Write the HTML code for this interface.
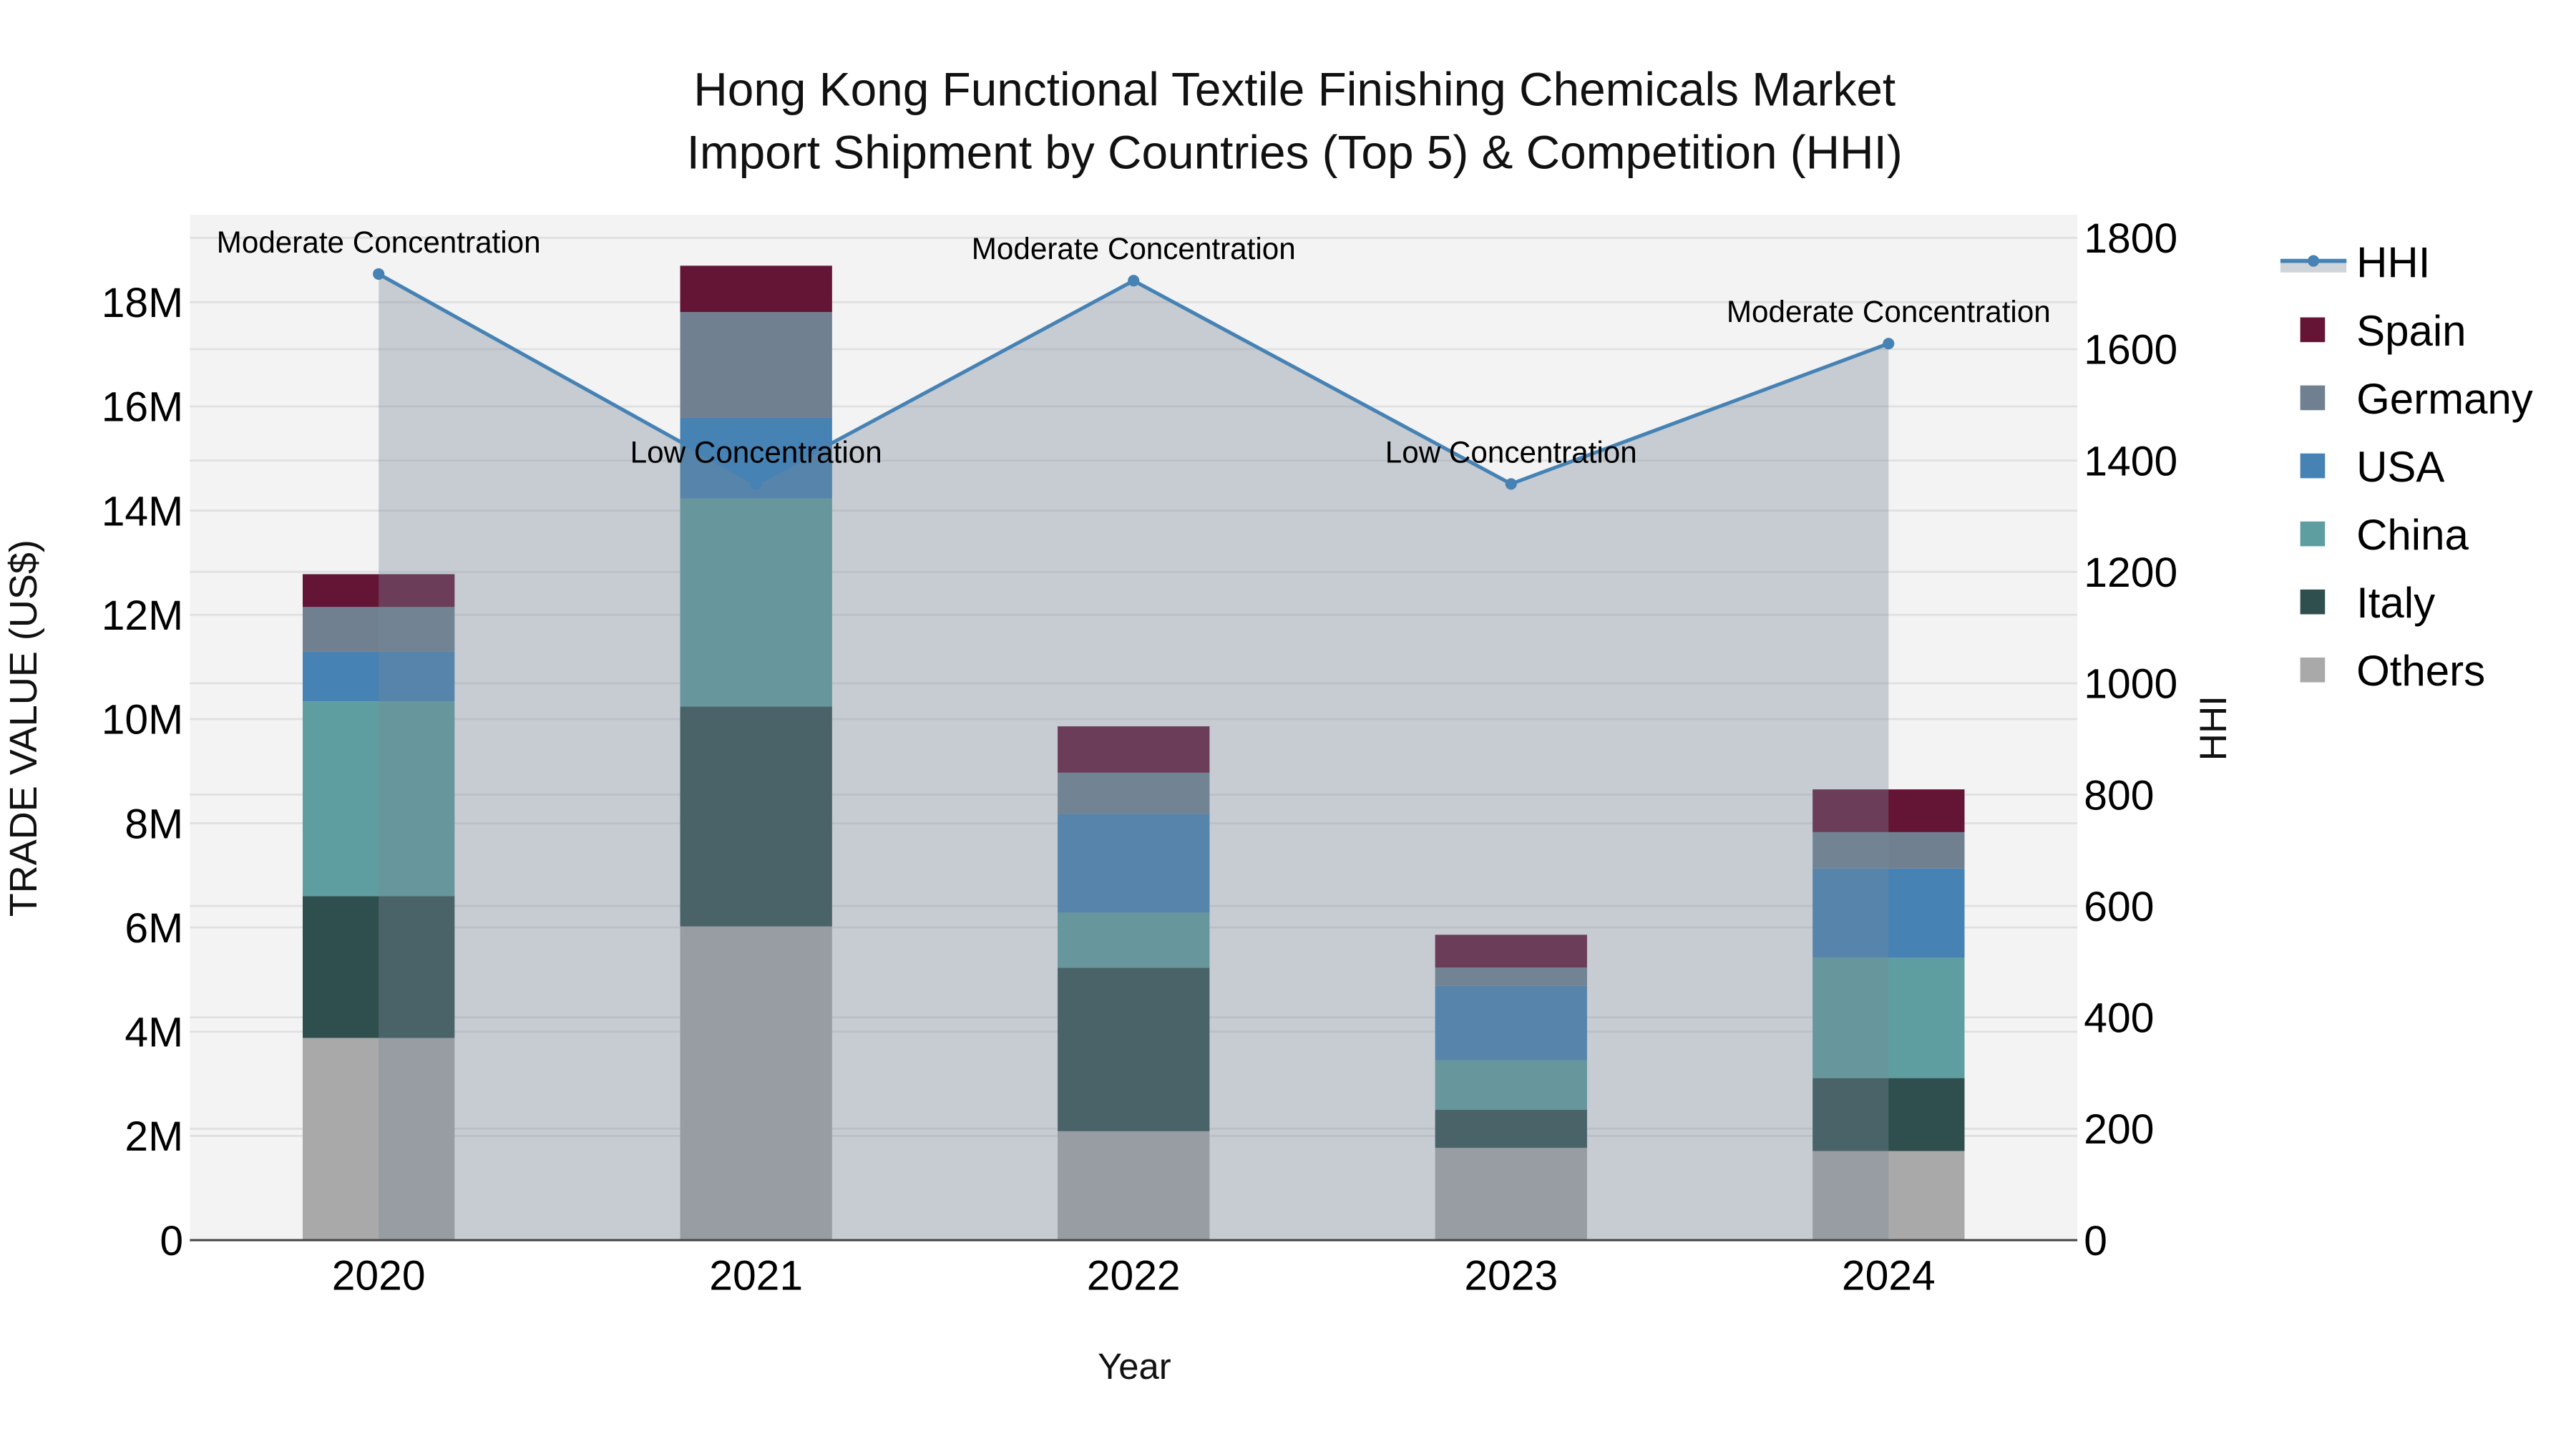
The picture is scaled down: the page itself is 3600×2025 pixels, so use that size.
<!DOCTYPE html>
<html><head><meta charset="utf-8"><style>
html,body{margin:0;padding:0;background:#fff}
svg{display:block}
text{font-family:"Liberation Sans",sans-serif}
</style></head><body>
<svg id="c" width="3600" height="2025" viewBox="0 0 1560 877.5" xmlns="http://www.w3.org/2000/svg"></svg>
<script>
const years=["2020","2021","2022","2023","2024"];
const others=[3.88,6.02,2.09,1.77,1.71];
const italy=[2.72,4.22,3.14,0.73,1.40];
const china=[3.74,3.99,1.05,0.95,2.31];
const usa=[0.95,1.55,1.90,1.43,1.71];
const germany=[0.86,2.03,0.79,0.35,0.70];
const spain=[0.63,0.89,0.89,0.63,0.82];
const hhi=[1735,1358,1723,1358,1610];
const hhiLabels=["Moderate Concentration","Low Concentration","Moderate Concentration","Low Concentration","Moderate Concentration"];
const yTicks=[0,2,4,6,8,10,12,14,16,18];
const y2Ticks=[0,200,400,600,800,1000,1200,1400,1600,1800];

const NS="http://www.w3.org/2000/svg";
const svg=document.getElementById('c');
const L=115,R=1258,T=130,B=751;
const xc=i=>L+(i+0.5)*(R-L)/years.length;
const y1=v=>B-v*(B-183)/18;
const y2=v=>B-v*(B-144)/1800;
function el(tag,attrs,parent){const e=document.createElementNS(NS,tag);for(const k in attrs)e.setAttribute(k,attrs[k]);(parent||svg).appendChild(e);return e;}
function txt(s,attrs){const e=el('text',attrs);e.textContent=s;return e;}

const bg=el('rect',{x:L,y:T,width:R-L,height:B-T,fill:'#f3f3f3'});


yTicks.forEach(v=>{const g=el('line',{x1:L,x2:R,y1:y1(v),y2:y1(v),stroke:'#e0e0e0','stroke-width':1.2});

});
y2Ticks.forEach(v=>{const g=el('line',{x1:L,x2:R,y1:y2(v),y2:y2(v),stroke:'#e0e0e0','stroke-width':1.2});

});

const series=[["Others",others,"#a9a9a9"],["Italy",italy,"#2f4f4f"],["China",china,"#5f9ea0"],["USA",usa,"#4682b4"],["Germany",germany,"#708090"],["Spain",spain,"#641434"]];
const bw=92;
years.forEach((yr,i)=>{let base=0;series.forEach(s=>{const v=s[1][i];const r=el('rect',{x:xc(i)-bw/2,y:y1(base+v),width:bw,height:y1(base)-y1(base+v),fill:s[2]});


base+=v;});});

let d='M'+xc(0)+','+B;hhi.forEach((v,i)=>{d+=' L'+xc(i)+','+y2(v);});d+=' L'+xc(hhi.length-1)+','+B+' Z';
const area=el('path',{d:d,fill:'rgba(119,136,153,0.36)'});


let ld='';hhi.forEach((v,i)=>{ld+=(i?' L':'M')+xc(i)+','+y2(v);});
const line=el('path',{d:ld,fill:'none',stroke:'#4682b4','stroke-width':2.2});


hhi.forEach((v,i)=>{const p=el('circle',{cx:xc(i),cy:y2(v),r:3.5,fill:'#4682b4'});


const a=txt(hhiLabels[i],{x:xc(i),y:y2(v)-13,'text-anchor':'middle','font-size':18.3,fill:'#000'});

});

const ax=el('line',{x1:L,x2:R,y1:B,y2:B,stroke:'#444','stroke-width':1.3});


yTicks.forEach(v=>{const t=txt(v===0?'0':v+'M',{x:L-4,y:y1(v)+9,'text-anchor':'end','font-size':25.5,fill:'#000'});

});
y2Ticks.forEach(v=>{const t=txt(String(v),{x:R+4,y:y2(v)+9,'text-anchor':'start','font-size':25.5,fill:'#000'});

});
years.forEach((yr,i)=>{const t=txt(yr,{x:xc(i),y:781,'text-anchor':'middle','font-size':25.5,fill:'#000'});

});

const titles=[["Hong Kong Functional Textile Finishing Chemicals Market",64],["Import Shipment by Countries (Top 5) & Competition (HHI)",102]];
titles.forEach(t=>{const e=txt(t[0],{x:784,y:t[1],'text-anchor':'middle','font-size':28.5,fill:'#111'});

});
const xt=txt('Year',{x:687,y:835,'text-anchor':'middle','font-size':22,fill:'#111'});


const yt=txt('TRADE VALUE (US$)',{x:0,y:0,'text-anchor':'middle','font-size':23.4,fill:'#111',transform:'translate(22,441) rotate(-90)'});


const y2t=txt('HHI',{x:0,y:0,'text-anchor':'middle','font-size':23,fill:'#111',transform:'translate(1348,441) rotate(-90)'});



const lg=[["HHI",null],["Spain","#641434"],["Germany","#708090"],["USA","#4682b4"],["China","#5f9ea0"],["Italy","#2f4f4f"],["Others","#a9a9a9"]];
lg.forEach((e,i)=>{const y=159+i*41.2;
if(e[1]){const r=el('rect',{x:1393,y:y-8,width:15,height:15,fill:e[1]});

}
else{el('rect',{x:1381,y:y-2,width:40,height:8,fill:'rgba(119,136,153,0.36)'});
el('line',{x1:1381,x2:1421,y1:y-1,y2:y-1,stroke:'#4682b4','stroke-width':2.5});
const c=el('circle',{cx:1401,cy:y-1,r:3.5,fill:'#4682b4'});

}
const t=txt(e[0],{x:1427,y:y+9,'font-size':26,fill:'#000'});

});
</script>
</body></html>
